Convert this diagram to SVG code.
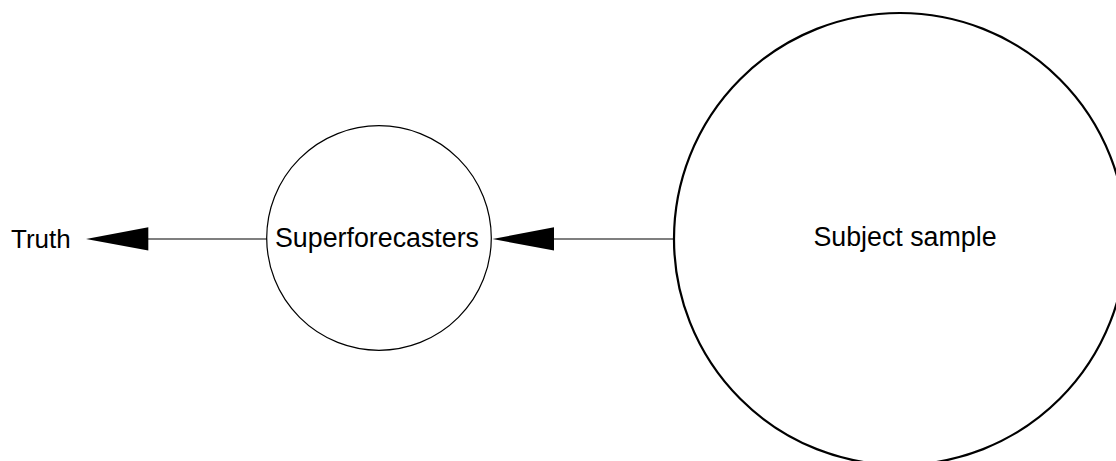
<svg xmlns="http://www.w3.org/2000/svg" width="1116" height="461" viewBox="0 0 1116 461">
<style>
text{font-family:"Liberation Sans",Arial,Helvetica,sans-serif;font-size:26px;fill:#000}
.big{font-size:26.8px}
.node{fill:#fff;stroke:#000}
.edge{stroke:#000;stroke-width:1.2;fill:none}
.head{fill:#000;stroke:none}
</style>
<rect width="1116" height="461" fill="#fff"/>
<g id="subject-sample">
<circle class="node" cx="900" cy="239" r="226" stroke-width="2.2"/>
<text class="big" x="905" y="246" text-anchor="middle">Subject sample</text>
</g>
<g id="superforecasters">
<circle class="node" cx="379" cy="238" r="112.3" stroke-width="1.2"/>
<text class="big" x="377" y="247" text-anchor="middle">Superforecasters</text>
</g>
<g id="truth">
<text x="11" y="248">Truth</text>
</g>
<g id="connectors">
<line class="edge" x1="674" y1="239" x2="552" y2="239"/>
<polygon class="head" points="492.5,239 554,227.3 554,250.5"/>
<line class="edge" x1="267" y1="239" x2="146" y2="239"/>
<polygon class="head" points="86,239 148.3,227.3 148.3,250.5"/>
</g>
</svg>
